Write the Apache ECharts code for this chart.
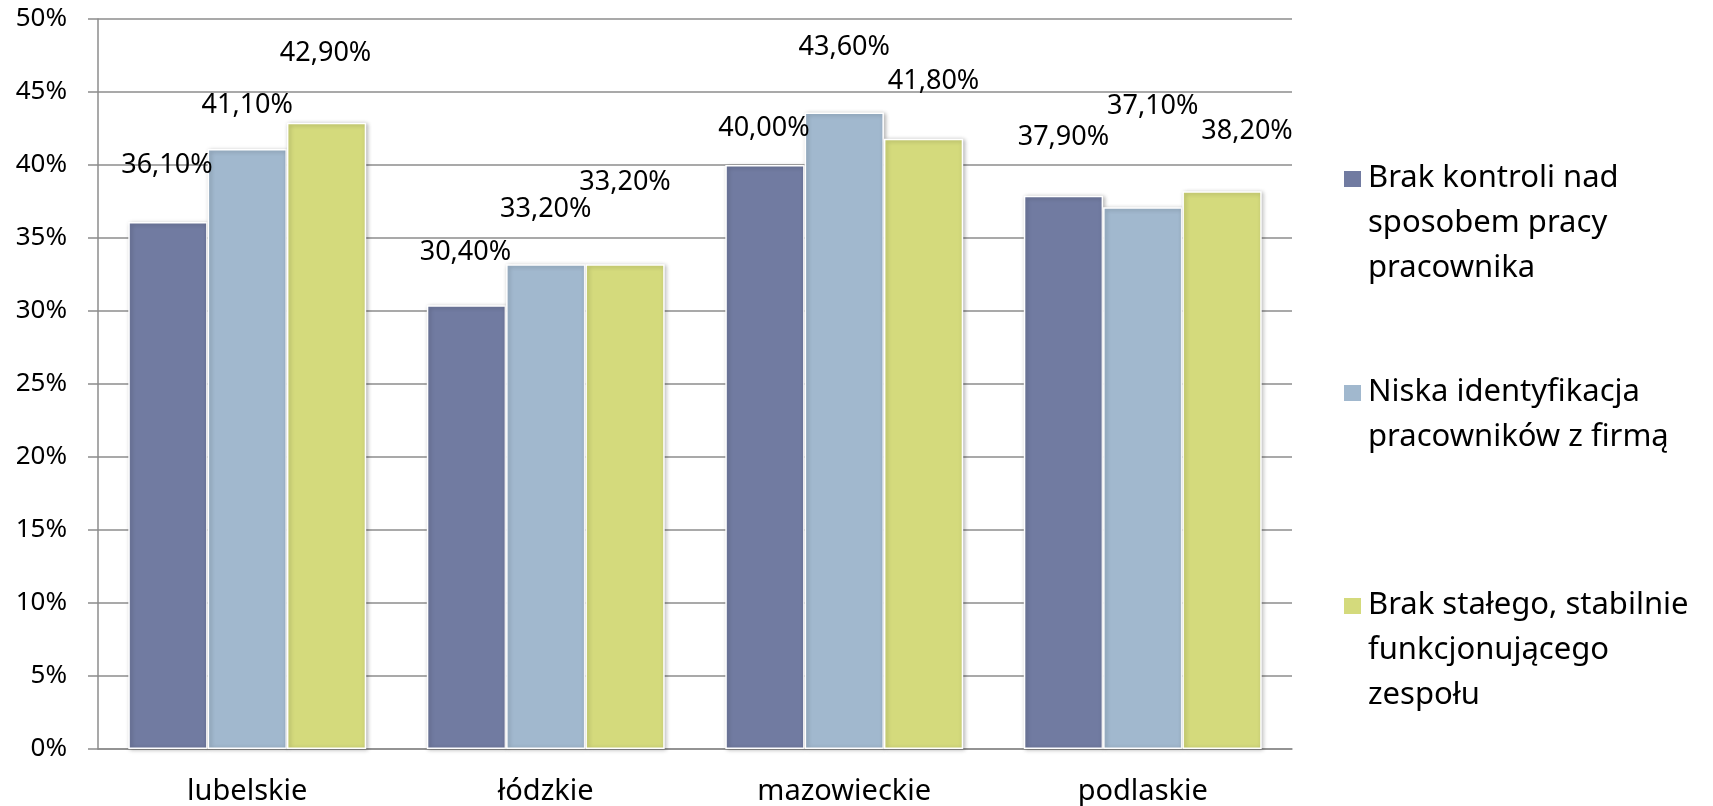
<!DOCTYPE html>
<html>
<head>
<meta charset="utf-8">
<script src="https://cdn.jsdelivr.net/npm/echarts@6/dist/echarts.min.js"></script>
<style>
  html, body { margin: 0; padding: 0; background: #fff; }
  #chart { width: 1713px; height: 806px; }
</style>
</head>
<body>
<div id="chart"></div>
<script>
  // dane
  const regions = ['lubelskie', 'łódzkie', 'mazowieckie', 'podlaskie']
  const seriesNames = [
    'Brak kontroli nad\nsposobem pracy\npracownika',
    'Niska identyfikacja\npracowników z firmą',
    'Brak stałego, stabilnie\nfunkcjonującego\nzespołu'
  ]
  const brakKontroli = [36.1, 30.4, 40.0, 37.9]
  const niskaIdentyfikacja = [41.1, 33.2, 43.6, 37.1]
  const brakZespolu = [42.9, 33.2, 41.8, 38.2]
  const yTicks = [0, 5, 10, 15, 20, 25, 30, 35, 40, 45, 50]

  // przesuniecia etykiet (jak w oryginale z Excela)
  const labelShift = [
    [[-1, -57], [-1, -53], [-1, -37], [0, -58]],
    [[0, -44], [0, -55], [0, -65], [10, -101]],
    [[-1, -69], [0, -82], [10, -57], [25, -60]]
  ]
  const colors = ['#717ba1', '#a1b8ce', '#d4da7c']
  const legendTops = [150, 364, 577]
  const lineH = 45

  const font = '"Noto Sans", "DejaVu Sans", sans-serif'
  const allData = [brakKontroli, niskaIdentyfikacja, brakZespolu]

  function fmt(v){
    return v.toFixed(2).replace('.', ',') + '%'
  }

  const series = allData.map((vals, s) => ({
    name: seriesNames[s],
    type: 'bar',
    barGap: '0%',
    barCategoryGap: '20.3%',
    itemStyle: {
      color: colors[s],
      borderColor: '#ffffff',
      borderWidth: 1.5,
      shadowColor: 'rgba(0,0,0,0.28)',
      shadowBlur: 4,
      shadowOffsetX: 1.5,
      shadowOffsetY: 1
    },
    emphasis: { disabled: true },
    data: vals.map((v, i) => ({
      value: v,
      label: {
        show: true,
        position: 'top',
        distance: 0,
        verticalAlign: 'middle',
        offset: labelShift[s][i],
        formatter: fmt(v),
        color: '#000',
        fontFamily: font,
        fontSize: 27
      }
    }))
  }))

  const legends = seriesNames.map((n, s) => {
    const lines = n.split('\n').length
    const h = lines * lineH
    return {
      left: 1337,
      top: legendTops[s],
      orient: 'vertical',
      selectedMode: false,
      data: [n],
      itemWidth: 19,
      itemHeight: h,
      itemGap: 0,
      icon: 'path://M0,0L0.01,0M0,' + h + 'L0.01,' + h + 'M0,14h19v18h-19z',
      textStyle: {
        fontFamily: font,
        fontSize: 31,
        lineHeight: lineH,
        color: '#000',
        padding: [0, 0, 0, 1]
      }
    }
  })

  const chart = echarts.init(document.getElementById('chart'))
  chart.setOption({
    animation: false,
    backgroundColor: '#ffffff',
    grid: { left: 98, right: 421, top: 19, bottom: 56, containLabel: false },
    legend: legends,
    xAxis: {
      type: 'category',
      data: regions,
      axisLine: { lineStyle: { color: '#8c8c8c', width: 1.5 } },
      axisTick: { show: false },
      axisLabel: { color: '#000', fontFamily: font, fontSize: 29, margin: 28 }
    },
    yAxis: {
      type: 'value',
      min: yTicks[0],
      max: yTicks[yTicks.length - 1],
      interval: 5,
      axisLine: { show: true, lineStyle: { color: '#8c8c8c', width: 1.5 } },
      axisTick: { show: true, length: 10, lineStyle: { color: '#8c8c8c', width: 1.5 } },
      splitLine: { lineStyle: { color: '#8c8c8c', width: 1.5 } },
      axisLabel: {
        color: '#000', fontFamily: font, fontSize: 26, margin: 31,
        formatter: v => v + '%'
      }
    },
    series: series
  })
</script>
</body>
</html>
